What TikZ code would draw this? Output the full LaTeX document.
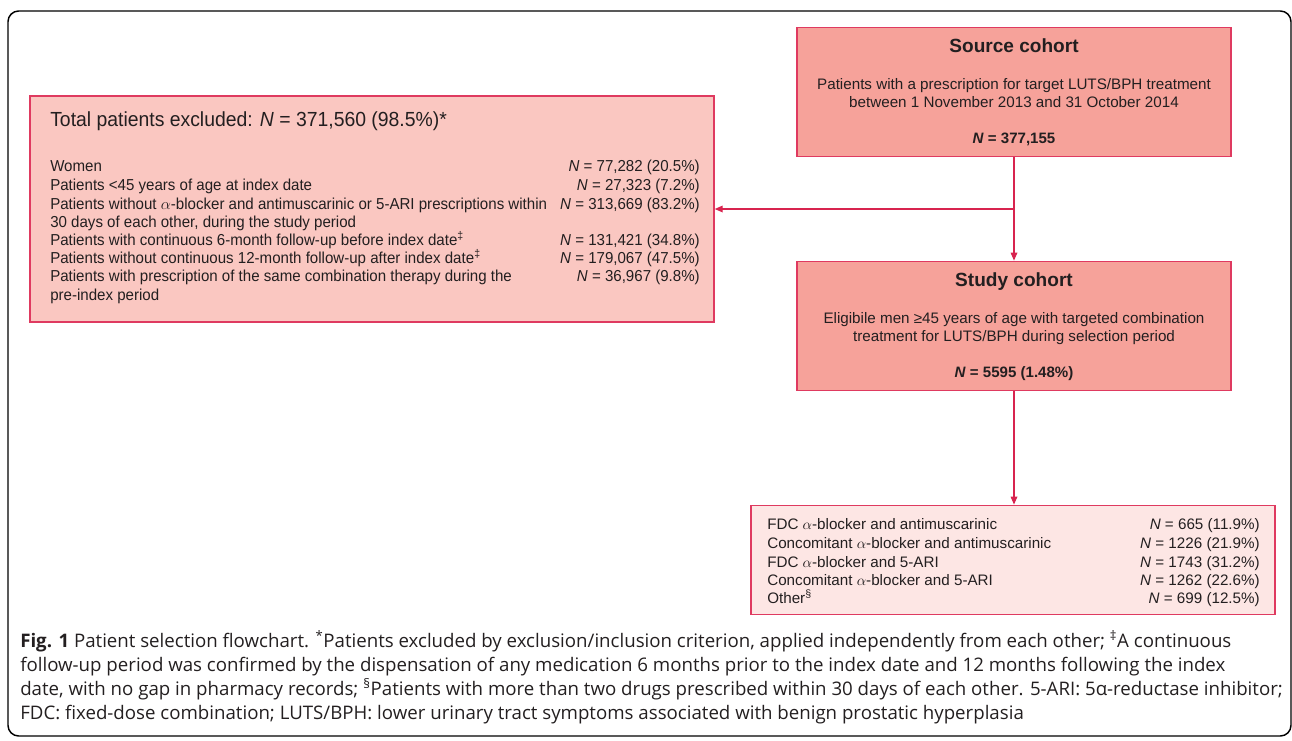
\documentclass[tikz,border=0pt]{standalone}
\usepackage{fontspec}
\setmainfont{Liberation Sans}
\newfontfamily\narrowfont[FakeStretch=0.95]{Liberation Sans}
\newfontfamily\capfont{Open Sans}
\usepackage{xcolor}
\usetikzlibrary{arrows.meta}

\definecolor{boxred}{HTML}{DF3A60}
\definecolor{linkred}{HTML}{D8244F}
\definecolor{cohortfill}{HTML}{F6A29A}
\definecolor{exclfill}{HTML}{FAC7C1}
\definecolor{splitfill}{HTML}{FDE6E4}
\definecolor{ink}{HTML}{231F20}

\begin{document}
\begin{tikzpicture}[x=0.75pt, y=-0.75pt,
        every node/.style={text=ink},
        cohort/.style={draw=boxred, fill=cohortfill, line width=1.1pt, minimum width=325.5pt, minimum height=97pt, inner sep=0pt},
        excl/.style={draw=boxred, fill=exclfill, line width=1.1pt, minimum width=513pt, minimum height=169.5pt, inner sep=0pt},
        split/.style={draw=boxred, fill=splitfill, line width=1.1pt, minimum width=393pt, minimum height=82pt, inner sep=0pt},
        head/.style={font=\fontsize{14.3}{16}\selectfont\bfseries, inner sep=0pt, anchor=base},
        body/.style={font=\fontsize{11.4}{13.5}\selectfont, inner sep=0pt, anchor=base, align=center},
        row/.style={font=\narrowfont\fontsize{11.9}{13.7}\selectfont, inner sep=0pt},
        res/.style={font=\fontsize{11.4}{13.9}\selectfont, inner sep=0pt},
        link/.style={draw=linkred, line width=0.9pt, -{Triangle[length=6pt, width=5pt]}}
      ]
  \useasboundingbox (0,0) rectangle (1292,740);
  \draw[black, line width=1.1pt, rounded corners=8pt] (8,11) rectangle (1291,736);

  % source and study cohort
  \node[cohort] (source) at (1014,92) {};
  \node[head] (sourcehead) at (1014,52) {Source cohort};
  \node[body] (sourcetext) at (1014,107) {Patients with a prescription for target LUTS/BPH treatment\\between 1 November 2013 and 31 October 2014};
  \node[body, font=\fontsize{11.3}{13.5}\selectfont\bfseries] (sourcen) at (1014,143) {\textit{N} = 377,155};

  \node[cohort] (study) at (1014,326) {};
  \node[head] (studyhead) at (1014,286) {Study cohort};
  \node[body] (studytext) at (1014,341) {Eligibile men ≥45 years of age with targeted combination\\treatment for LUTS/BPH during selection period};
  \node[body, font=\fontsize{11.3}{13.5}\selectfont\bfseries] (studyn) at (1014,377) {\textit{N} = 5595 (1.48\%)};

  % excluded
  \node[excl] (excl) at (372,209) {};
  \node[row, anchor=base west, font=\narrowfont\fontsize{15.3}{17}\selectfont] (exclhead) at (50,126) {Total patients excluded: \textit{N} = 371,560 (98.5\%)*};
  \foreach \y/\txt/\val [count=\i] in {
      171/Women/{\textit{N} = 77,282 (20.5\%)},
      190/Patients <45 years of age at index date/{\textit{N} = 27,323 (7.2\%)},
      209/Patients without $\alpha$-blocker and antimuscarinic or 5-ARI prescriptions within/{\textit{N} = 313,669 (83.2\%)},
      227/{30 days of each other, during the study period}/{},
      245/Patients with continuous 6-month follow-up before index date\textsuperscript{‡}/{\textit{N} = 131,421 (34.8\%)},
      263/Patients without continuous 12-month follow-up after index date\textsuperscript{‡}/{\textit{N} = 179,067 (47.5\%)},
      281/Patients with prescription of the same combination therapy during the/{\textit{N} = 36,967 (9.8\%)},
      300/pre-index period/{}} {
    \node[row, anchor=base west] (exclrow\i) at (50,\y) {\txt};
    \node[row, anchor=base east] (exclval\i) at (700,\y) {\val};
  }

  % split by treatment
  \node[split] (split) at (1013,560) {};
  \foreach \y/\txt/\val [count=\i] in {
      529/FDC $\alpha$-blocker and antimuscarinic/{\textit{N} = 665 (11.9\%)},
      548/Concomitant $\alpha$-blocker and antimuscarinic/{\textit{N} = 1226 (21.9\%)},
      567/FDC $\alpha$-blocker and 5-ARI/{\textit{N} = 1743 (31.2\%)},
      585/Concomitant $\alpha$-blocker and 5-ARI/{\textit{N} = 1262 (22.6\%)},
      603/Other\textsuperscript{\S}/{\textit{N} = 699 (12.5\%)}} {
    \node[res, anchor=base west] (splitrow\i) at (767,\y) {\txt};
    \node[res, anchor=base east] (splitval\i) at (1260,\y) {\val};
  }

  % connectors
  \coordinate (branch) at (1014,209);
  \draw[link] (source.south) -- (study.north);
  \draw[link] (branch) -- (excl.east |- branch);
  \draw[link] (study.south) -- (split.north -| study.south);

  % caption
  \node[anchor=north west, inner sep=0pt, align=left, font=\capfont\fontsize{14}{18.2}\selectfont] (caption) at (20,630)
    {\textbf{Fig. 1} Patient selection flowchart. \textsuperscript{*}Patients excluded by exclusion/inclusion criterion, applied independently from each other; \textsuperscript{‡}A continuous\\
     follow-up period was confirmed by the dispensation of any medication 6 months prior to the index date and 12 months following the index\\
     date, with no gap in pharmacy records; \textsuperscript{\S}Patients with more than two drugs prescribed within 30 days of each other. 5-ARI: 5α-reductase inhibitor;\\
     FDC: fixed-dose combination; LUTS/BPH: lower urinary tract symptoms associated with benign prostatic hyperplasia};
\end{tikzpicture}
\end{document}
